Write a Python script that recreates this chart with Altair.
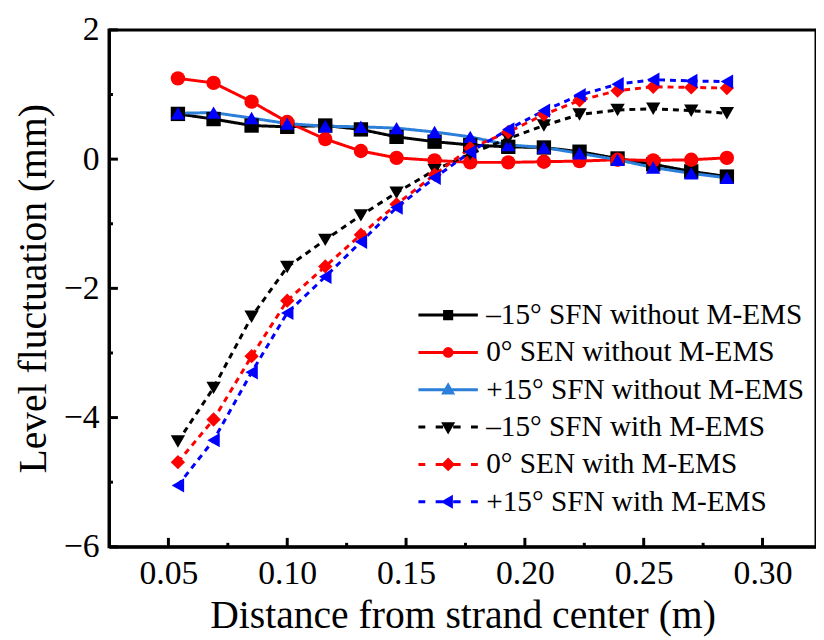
import altair as alt
import pandas as pd

# ---------------- data ----------------
x_vals = [0.054, 0.069, 0.085, 0.100, 0.116, 0.131, 0.146, 0.162,
          0.177, 0.193, 0.208, 0.223, 0.239, 0.254, 0.270, 0.285]

m15_without = [0.70, 0.62, 0.52, 0.50, 0.52, 0.46, 0.345, 0.27,
               0.22, 0.19, 0.18, 0.115, 0.01, -0.08, -0.19, -0.27]
zero_without = [1.25, 1.18, 0.89, 0.575, 0.31, 0.126, 0.02, -0.02,
                -0.05, -0.05, -0.04, -0.03, -0.01, -0.02, -0.01, 0.02]
p15_without = [0.71, 0.72, 0.636, 0.55, 0.51, 0.50, 0.48, 0.42,
               0.345, 0.22, 0.18, 0.09, -0.01, -0.13, -0.22, -0.29]
m15_with = [-4.37, -3.54, -2.44, -1.67, -1.25, -0.87, -0.52, -0.17,
            0.08, 0.32, 0.52, 0.69, 0.76, 0.78, 0.75, 0.71]
zero_with = [-4.69, -4.03, -3.05, -2.19, -1.66, -1.17, -0.70, -0.24,
             0.17, 0.42, 0.69, 0.91, 1.06, 1.12, 1.11, 1.10]
p15_with = [-5.05, -4.35, -3.30, -2.38, -1.82, -1.28, -0.75, -0.29,
            0.11, 0.46, 0.75, 0.99, 1.16, 1.23, 1.21, 1.20]

labels = ["\u201315\u00b0 SFN without M-EMS", "0\u00b0 SEN without M-EMS",
          "+15\u00b0 SFN without M-EMS", "\u201315\u00b0 SFN with M-EMS",
          "0\u00b0 SEN with M-EMS", "+15\u00b0 SFN with M-EMS"]
series_values = [m15_without, zero_without, p15_without,
                 m15_with, zero_with, p15_with]

line_colors = ["#000000", "#ff0000", "#2b7fd9", "#000000", "#ff0000", "#0000ff"]
marker_colors = ["#000000", "#ff0000", "#0000ff", "#000000", "#ff0000", "#0000ff"]
shapes = ["square", "circle", "triangle-up", "triangle-down", "diamond", "triangle-left"]
dashes = [[1, 0], [1, 0], [1, 0], [6, 5], [6, 5], [6, 5]]

x_major = [0.05, 0.10, 0.15, 0.20, 0.25, 0.30]
x_minor = [0.075, 0.125, 0.175, 0.225, 0.275]
y_major = [-6, -4, -2, 0, 2]
y_minor = [-5, -3, -1, 1]

# legend symbols: line + marker drawn as stroked custom paths (unit = half symbol width)
solid = "M-1,0H1"
dashed = "M-1,0H-0.77M-0.42,0H-0.17M0.17,0H0.42M0.77,0H1"
marks_path = [
    "M-0.12,-0.12H0.12V0.12H-0.12ZM-0.12,0H0.12M-0.12,-0.06H0.12M-0.12,0.06H0.12",
    "M0.13,0A0.13,0.13,0,1,1,-0.13,0A0.13,0.13,0,1,1,0.13,0Z"
    "M-0.13,0H0.13M-0.11,-0.06H0.11M-0.11,0.06H0.11",
    "M0,-0.15L0.15,0.11L-0.15,0.11Z"
    "M-0.052,-0.06H0.052M-0.0865,0H0.0865M-0.121,0.06H0.121",
    "M0,0.15L0.15,-0.11L-0.15,-0.11Z"
    "M-0.052,0.06H0.052M-0.0865,0H0.0865M-0.121,-0.06H0.121",
    "M0,-0.16L0.16,0L0,0.16L-0.16,0Z"
    "M-0.16,0H0.16M-0.1,-0.06H0.1M-0.1,0.06H0.1",
    "M-0.15,0L0.11,-0.15L0.11,0.15Z"
    "M-0.06,-0.052V0.052M0,-0.0865V0.0865M0.06,-0.121V0.121",
]
legend_paths = [(solid if i < 3 else dashed) + marks_path[i] for i in range(6)]

# ---------------- table ----------------
rows = []
for lab, vals in zip(labels, series_values):
    for xv, yv in zip(x_vals, vals):
        rows.append({"x": xv, "y": yv, "series": lab, "label": lab})
df = pd.DataFrame(rows)

W, H = 714, 522
FONT = "Liberation Serif"

xscale = alt.Scale(domain=[0.025, 0.3225], nice=False, zero=False)
yscale = alt.Scale(domain=[-6, 2], nice=False, zero=False)
xaxis = alt.Axis(values=x_major, format=".2f", ticks=False, tickSize=0, grid=False,
                 title="Distance from strand center (m)", labelPadding=10,
                 titlePadding=6)
yaxis = alt.Axis(values=y_major, format="d", ticks=False, tickSize=0, grid=False,
                 title="Level fluctuation (mm)", labelPadding=10, titlePadding=10)

X = alt.X("x:Q", scale=xscale, axis=xaxis)
Y = alt.Y("y:Q", scale=yscale, axis=yaxis)

lines = alt.Chart(df).mark_line(strokeWidth=3).encode(
    x=X, y=Y,
    color=alt.Color("series:N", scale=alt.Scale(domain=labels, range=line_colors), legend=None),
    strokeDash=alt.StrokeDash("series:N", scale=alt.Scale(domain=labels, range=dashes), legend=None),
)

points = alt.Chart(df).mark_point(filled=True, size=210, opacity=1).encode(
    x=X, y=Y,
    color=alt.Color("series:N", scale=alt.Scale(domain=labels, range=marker_colors), legend=None),
    shape=alt.Shape("series:N", scale=alt.Scale(domain=labels, range=shapes), legend=None),
)

leg = alt.Legend(orient="none", legendX=311, legendY=273, title=None,
                 labelFont=FONT, labelFontSize=29.5, labelColor="black",
                 symbolSize=3600, symbolStrokeWidth=3, labelOffset=7,
                 clipHeight=30, rowPadding=7.7, labelLimit=600)

legend_layer = alt.Chart(df).mark_point(filled=True, opacity=0, size=3600, strokeWidth=3).encode(
    x=X, y=Y,
    fill=alt.Fill("label:N", scale=alt.Scale(domain=labels, range=marker_colors), legend=leg),
    stroke=alt.Stroke("label:N", scale=alt.Scale(domain=labels, range=line_colors), legend=leg),
    shape=alt.Shape("label:N", scale=alt.Scale(domain=labels, range=legend_paths), legend=leg),
)

# inward ticks
xt_major = pd.DataFrame({"x": x_major})
xt_minor = pd.DataFrame({"x": x_minor})
yt_major = pd.DataFrame({"y": y_major})
yt_minor = pd.DataFrame({"y": y_minor})

xtick_major = alt.Chart(xt_major).mark_rule(color="black", strokeWidth=3).encode(
    x=X, y=alt.value(H), y2=alt.value(H - 9))
xtick_minor = alt.Chart(xt_minor).mark_rule(color="black", strokeWidth=3).encode(
    x=X, y=alt.value(H), y2=alt.value(H - 4))
ytick_major = alt.Chart(yt_major).mark_rule(color="black", strokeWidth=3).encode(
    y=Y, x=alt.value(0), x2=alt.value(9))
ytick_minor = alt.Chart(yt_minor).mark_rule(color="black", strokeWidth=3).encode(
    y=Y, x=alt.value(0), x2=alt.value(4))

chart = alt.layer(
    xtick_major, xtick_minor, ytick_major, ytick_minor,
    legend_layer, lines, points,
).resolve_scale(
    color="independent", shape="independent", fill="independent", stroke="independent"
).properties(
    width=W, height=H,
    autosize=alt.AutoSizeParams(type="none"),
    padding={"left": 102, "top": 19, "right": 0, "bottom": 91},
).configure_view(
    stroke="black", strokeWidth=3
).configure_axis(
    labelFont=FONT, titleFont=FONT, labelFontSize=34, titleFontSize=40,
    titleFontWeight="normal", labelColor="black", titleColor="black",
    domainColor="black", domainWidth=3,
).configure_legend(
    labelFont=FONT
)

chart.save("out.html", embed_options={"renderer": "svg", "actions": False})
